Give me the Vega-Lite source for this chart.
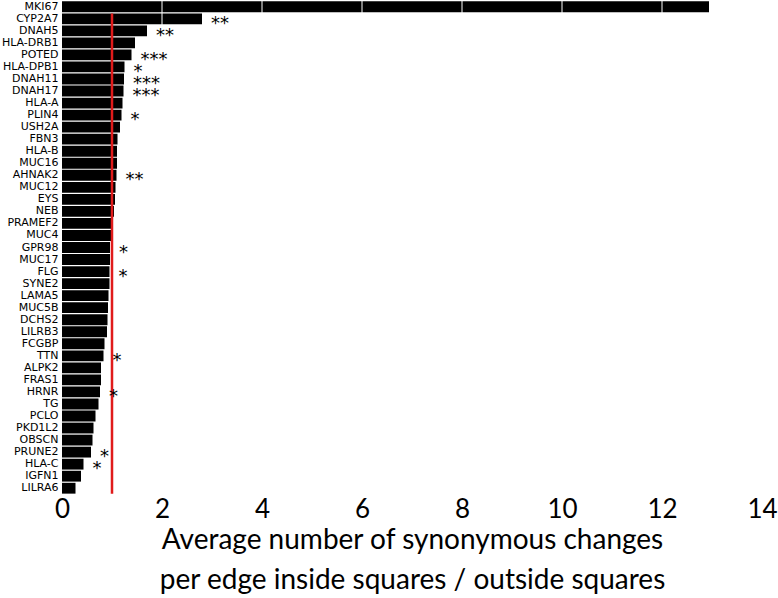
{
  "$schema": "https://vega.github.io/schema/vega-lite/v6.json",
  "autosize": "none",
  "width": 700,
  "height": 493,
  "padding": {"left": 62, "top": 1, "right": 16, "bottom": 104},
  "background": "white",
  "config": {"view": {"stroke": null}},
  "datasets": {
    "genes": [
      {"gene": "MKI67", "value": 12.94, "sig": ""},
      {"gene": "CYP2A7", "value": 2.8, "sig": "**"},
      {"gene": "DNAH5", "value": 1.7, "sig": "**"},
      {"gene": "HLA-DRB1", "value": 1.46, "sig": ""},
      {"gene": "POTED", "value": 1.39, "sig": "***"},
      {"gene": "HLA-DPB1", "value": 1.25, "sig": "*"},
      {"gene": "DNAH11", "value": 1.24, "sig": "***"},
      {"gene": "DNAH17", "value": 1.23, "sig": "***"},
      {"gene": "HLA-A", "value": 1.21, "sig": ""},
      {"gene": "PLIN4", "value": 1.19, "sig": "*"},
      {"gene": "USH2A", "value": 1.16, "sig": ""},
      {"gene": "FBN3", "value": 1.11, "sig": ""},
      {"gene": "HLA-B", "value": 1.1, "sig": ""},
      {"gene": "MUC16", "value": 1.1, "sig": ""},
      {"gene": "AHNAK2", "value": 1.09, "sig": "**"},
      {"gene": "MUC12", "value": 1.07, "sig": ""},
      {"gene": "EYS", "value": 1.06, "sig": ""},
      {"gene": "NEB", "value": 1.04, "sig": ""},
      {"gene": "PRAMEF2", "value": 0.99, "sig": ""},
      {"gene": "MUC4", "value": 0.99, "sig": ""},
      {"gene": "GPR98", "value": 0.96, "sig": "*"},
      {"gene": "MUC17", "value": 0.96, "sig": ""},
      {"gene": "FLG", "value": 0.95, "sig": "*"},
      {"gene": "SYNE2", "value": 0.95, "sig": ""},
      {"gene": "LAMA5", "value": 0.93, "sig": ""},
      {"gene": "MUC5B", "value": 0.92, "sig": ""},
      {"gene": "DCHS2", "value": 0.91, "sig": ""},
      {"gene": "LILRB3", "value": 0.9, "sig": ""},
      {"gene": "FCGBP", "value": 0.85, "sig": ""},
      {"gene": "TTN", "value": 0.83, "sig": "*"},
      {"gene": "ALPK2", "value": 0.78, "sig": ""},
      {"gene": "FRAS1", "value": 0.78, "sig": ""},
      {"gene": "HRNR", "value": 0.76, "sig": "*"},
      {"gene": "TG", "value": 0.73, "sig": ""},
      {"gene": "PCLO", "value": 0.67, "sig": ""},
      {"gene": "PKD1L2", "value": 0.63, "sig": ""},
      {"gene": "OBSCN", "value": 0.61, "sig": ""},
      {"gene": "PRUNE2", "value": 0.58, "sig": "*"},
      {"gene": "HLA-C", "value": 0.43, "sig": "*"},
      {"gene": "IGFN1", "value": 0.38, "sig": ""},
      {"gene": "LILRA6", "value": 0.27, "sig": ""}
    ],
    "grid": [{"x": 2}, {"x": 4}, {"x": 6}, {"x": 8}, {"x": 10}, {"x": 12}],
    "ref": [{"x": 1, "from": "CYP2A7", "to": "LILRA6"}]
  },
  "layer": [
    {
      "data": {"name": "genes"},
      "mark": {"type": "bar", "color": "black"},
      "encoding": {
        "y": {
          "field": "gene",
          "type": "nominal",
          "sort": null,
          "scale": {"paddingInner": 0.1, "paddingOuter": 0.03},
          "axis": {
            "title": null,
            "domain": false,
            "ticks": false,
            "labelFont": "DejaVu Sans",
            "labelFontSize": 11,
            "labelColor": "black",
            "labelPadding": 4
          }
        },
        "x": {
          "field": "value",
          "type": "quantitative",
          "scale": {"domain": [0, 14], "nice": false},
          "axis": {
            "values": [0, 2, 4, 6, 8, 10, 12, 14],
            "domain": false,
            "ticks": false,
            "grid": false,
            "labelFont": "Lato",
            "labelFontSize": 26,
            "labelColor": "black",
            "labelPadding": 2,
            "labelFlush": false,
            "title": ["Average number of synonymous changes", "per edge inside squares / outside squares"],
            "titleFont": "Lato",
            "titleFontSize": 28,
            "titleFontWeight": "normal",
            "titleColor": "black",
            "titleLineHeight": 40,
            "titlePadding": 4
          }
        }
      }
    },
    {
      "data": {"name": "grid"},
      "mark": {"type": "rule", "color": "white", "strokeWidth": 1},
      "encoding": {
        "x": {"field": "x", "type": "quantitative"}
      }
    },
    {
      "data": {"name": "ref"},
      "mark": {"type": "rule", "color": "#e01b1b", "strokeWidth": 2.5},
      "encoding": {
        "x": {"field": "x", "type": "quantitative"},
        "y": {"field": "from", "type": "nominal", "sort": null, "bandPosition": 0},
        "y2": {"field": "to", "bandPosition": 1}
      }
    },
    {
      "data": {"name": "genes"},
      "mark": {"type": "text", "align": "left", "baseline": "middle", "dx": 9, "dy": 5, "font": "DejaVu Sans", "fontSize": 18, "color": "black"},
      "encoding": {
        "y": {"field": "gene", "type": "nominal", "sort": null},
        "x": {"field": "value", "type": "quantitative"},
        "text": {"field": "sig"}
      }
    }
  ]
}
